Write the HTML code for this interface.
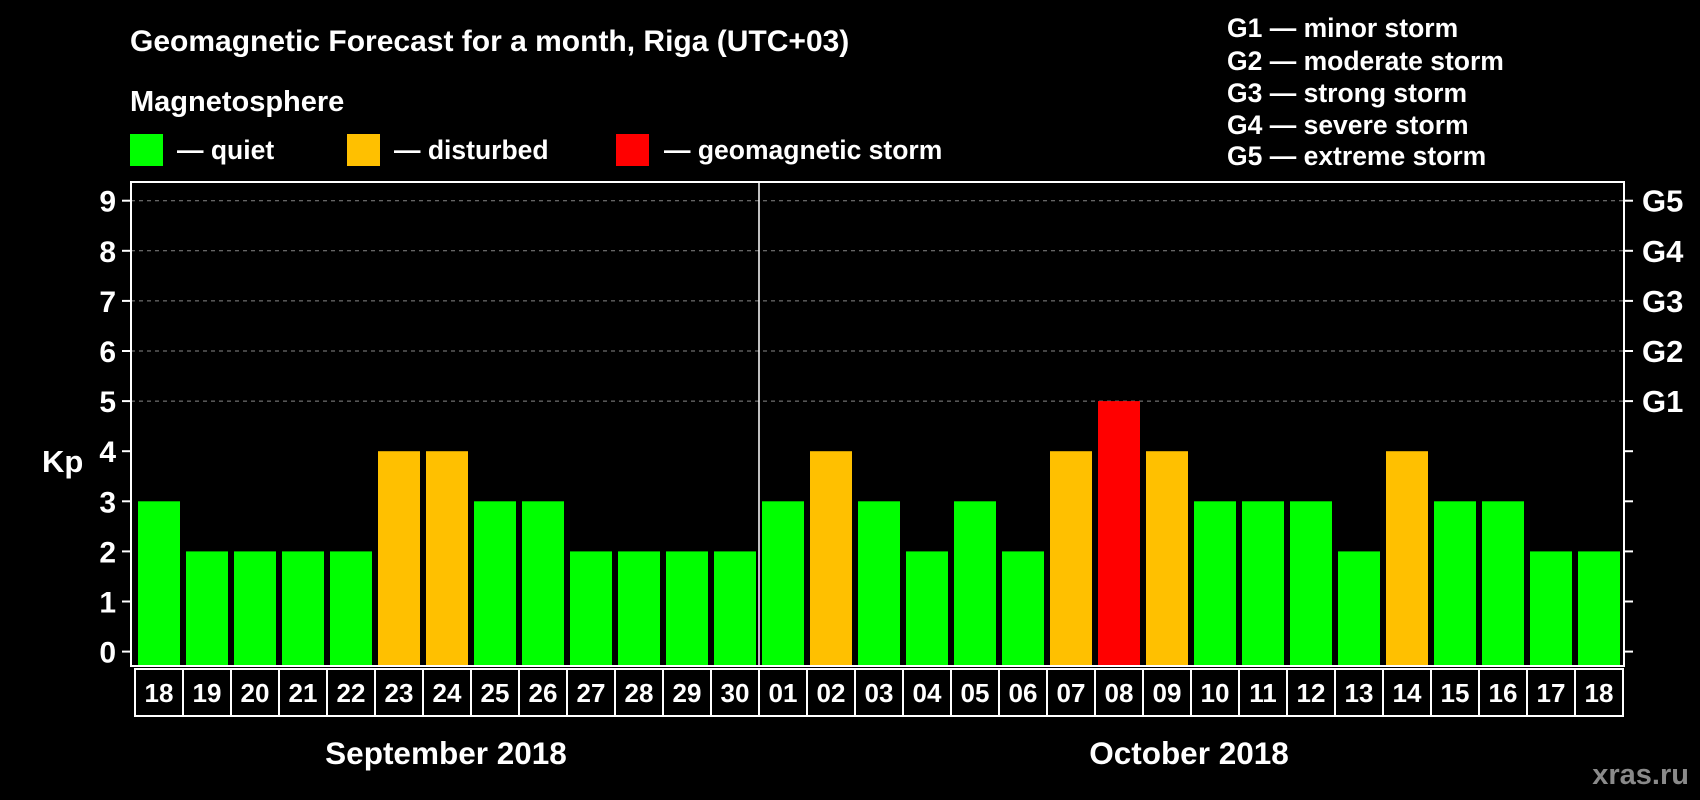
<!DOCTYPE html>
<html><head><meta charset="utf-8"><style>
html,body{margin:0;padding:0;background:#000;width:1700px;height:800px;overflow:hidden}
svg{display:block}
text{font-family:"Liberation Sans",Arial,sans-serif;font-weight:bold;fill:#fff}
</style></head><body>
<svg id="chart" width="1700" height="800" xmlns="http://www.w3.org/2000/svg">
<text x="130" y="51" font-size="30">Geomagnetic Forecast for a month, Riga (UTC+03)</text>
<text x="130" y="111" font-size="29">Magnetosphere</text>
<rect x="130" y="134" width="33" height="32" fill="#00ff00"/>
<text x="177" y="159" font-size="26.5">— quiet</text>
<rect x="347" y="134" width="33" height="32" fill="#ffc000"/>
<text x="394" y="159" font-size="26.5">— disturbed</text>
<rect x="616" y="134" width="33" height="32" fill="#ff0000"/>
<text x="664" y="159" font-size="26.5">— geomagnetic storm</text>
<g font-size="26.5">
<text x="1227" y="37">G1 — minor storm</text>
<text x="1227" y="70">G2 — moderate storm</text>
<text x="1227" y="102">G3 — strong storm</text>
<text x="1227" y="134">G4 — severe storm</text>
<text x="1227" y="165">G5 — extreme storm</text>
</g>
<text x="42" y="472" font-size="31">Kp</text>
<g id="grid"></g><g id="bars"></g><g id="axes"></g><g id="dates"></g>
<text x="446" y="764" font-size="31.5" text-anchor="middle">September 2018</text>
<text x="1189" y="764" font-size="31.5" text-anchor="middle">October 2018</text>
<text x="1689" y="784" font-size="29" text-anchor="end" style="fill:#8a8a8a">xras.ru</text>
</svg>
<script>
const days = ["18","19","20","21","22","23","24","25","26","27","28","29","30","01","02","03","04","05","06","07","08","09","10","11","12","13","14","15","16","17","18"];
const kpValues = [3,2,2,2,2,4,4,3,3,2,2,2,2,3,4,3,2,3,2,4,5,4,3,3,3,2,4,3,3,2,2];
const yTicks = ["0","1","2","3","4","5","6","7","8","9"];
const gLabels = ["G1","G2","G3","G4","G5"];
const NS="http://www.w3.org/2000/svg";
const L=131,R=1624,T=182,B=666,slot=48,x0=138,bw=42;
const y=v=>651.6-v*50.1;
const xs=i=>x0+i*slot;
function mk(tag,attrs,parent){const e=document.createElementNS(NS,tag);for(const k in attrs)e.setAttribute(k,attrs[k]);parent.appendChild(e);return e;}
const grid=document.getElementById('grid'),bars=document.getElementById('bars'),axes=document.getElementById('axes'),dates=document.getElementById('dates');
for(let v=5;v<=9;v++){
  const g=mk('line',{x1:L,x2:R,y1:y(v),y2:y(v),stroke:'#888','stroke-width':1,'stroke-dasharray':'4,4'},grid);
  
  
}
kpValues.forEach((v,i)=>{
  const c=v>=5?'#ff0000':(v>=4?'#ffc000':'#00ff00');
  const r=mk('rect',{x:xs(i),y:y(v),width:bw,height:B-y(v),fill:c},bars);
  
  
});
const box=mk('rect',{x:L,y:T,width:R-L,height:B-T,fill:'none',stroke:'#fff','stroke-width':2},axes);


const sepX=(xs(12)+bw+xs(13))/2;
const sep=mk('line',{x1:sepX,x2:sepX,y1:T,y2:B,stroke:'#fff','stroke-width':1.5},axes);


yTicks.forEach((t,v)=>{
  mk('line',{x1:122,x2:L,y1:y(v),y2:y(v),stroke:'#fff','stroke-width':2},axes);
  mk('line',{x1:R,x2:1633,y1:y(v),y2:y(v),stroke:'#fff','stroke-width':2},axes);
  const tx=mk('text',{x:116,y:y(v)+11,'font-size':30,'text-anchor':'end'},axes);
  tx.textContent=t;
  
  
});
gLabels.forEach((g,i)=>{
  const tx=mk('text',{x:1642,y:y(5+i)+11,'font-size':31},axes);
  tx.textContent=g;
  
  
});
days.forEach((d,i)=>{
  const cx=135+i*slot;
  const r=mk('rect',{x:cx,y:669,width:slot,height:47,fill:'none',stroke:'#fff','stroke-width':2},dates);
  
  
  const tx=mk('text',{x:cx+slot/2,y:702,'font-size':26,'text-anchor':'middle'},dates);
  tx.textContent=d;
  
  
});
</script>
</body></html>
